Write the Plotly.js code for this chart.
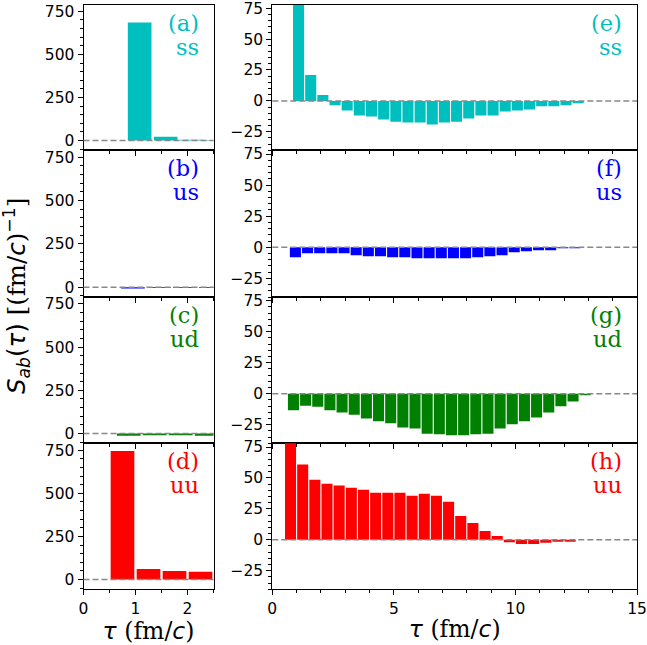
<!DOCTYPE html>
<html>
<head>
<meta charset="utf-8">
<script src="https://cdn.plot.ly/plotly-3.0.1.min.js"></script>
<style>html,body{margin:0;padding:0;background:#fff;}#plot{width:647px;height:645px;}</style>
</head>
<body>
<div id="plot"></div>
<script>
// ---- data ----
const pairs = ["ss", "us", "ud", "uu"];
const leftLetters = ["(a)", "(b)", "(c)", "(d)"];
const rightLetters = ["(e)", "(f)", "(g)", "(h)"];

const tauSS = [1.08, 1.58, 2.08, 2.58, 3.08, 3.58, 4.08, 4.58, 5.08, 5.58, 6.08, 6.58, 7.08, 7.58, 8.08, 8.58, 9.08, 9.58, 10.08, 10.58, 11.08, 11.58, 12.08, 12.58];
const valSS = [685, 21, 4.7, -3.6, -7.7, -11.8, -12.6, -15.1, -16.8, -17.6, -17.6, -19.2, -17.6, -16.8, -14.3, -11.8, -11.8, -8.5, -7.7, -6.9, -4.4, -4.4, -3.6, -1.9];

const tauUS = [0.95, 1.45, 1.95, 2.45, 2.95, 3.45, 3.95, 4.45, 4.95, 5.45, 5.95, 6.45, 6.95, 7.45, 7.95, 8.45, 8.95, 9.45, 9.95, 10.45, 10.95, 11.45, 11.95, 12.45];
const valUS = [-8.1, -4.8, -4.8, -4.8, -4.8, -6.5, -7.3, -7.3, -8.1, -8.1, -8.9, -8.9, -8.9, -8.9, -8.9, -8.1, -7.3, -6.5, -4.0, -3.2, -2.4, -2.4, -0.8, -0.8];

const tauUD = [0.87, 1.37, 1.87, 2.37, 2.87, 3.37, 3.87, 4.37, 4.87, 5.37, 5.87, 6.37, 6.87, 7.37, 7.87, 8.37, 8.87, 9.37, 9.87, 10.37, 10.87, 11.37, 11.87, 12.37, 12.87];
const valUD = [-13.4, -9.7, -10.5, -13.4, -15.1, -16.9, -19.9, -22.3, -23.9, -27.2, -28.0, -32.3, -32.8, -33.6, -33.6, -32.8, -32.3, -28.0, -24.7, -22.3, -19.1, -15.1, -10.2, -6.2, -1.3];

const tauUU = [0.75, 1.25, 1.75, 2.25, 2.75, 3.25, 3.75, 4.25, 4.75, 5.25, 5.75, 6.25, 6.75, 7.25, 7.75, 8.25, 8.75, 9.25, 9.75, 10.25, 10.75, 11.25, 11.75, 12.25];
const valUU = [746, 60.9, 48.6, 45.4, 43.8, 42.1, 40.5, 38.0, 38.0, 38.0, 35.6, 37.2, 35.6, 30.7, 19.3, 13.6, 7.1, 3.0, -1.9, -3.3, -3.3, -2.4, -1.6, -1.6];

const leftXTicks = [0, 1, 2];
const rightXTicks = [0, 5, 10, 15];
const leftYTicks = [0, 250, 500, 750];
const rightYTicks = [-25, 0, 25, 50, 75];

// ---- styling ----
const colors = ["#00BFBF", "#0000FF", "#008000", "#FF0000"];
const taus = [tauSS, tauUS, tauUD, tauUU];
const vals = [valSS, valUS, valUD, valUU];

const W = 647, H = 645;
const leftDom = [83.5 / W, 213.5 / W];
const rightDom = [272.3 / W, 637 / W];
const rowEdges = [4.5, 150.3, 297, 443.3, 589.3];
const rowDom = i => [1 - rowEdges[i + 1] / H, 1 - rowEdges[i] / H];

const tickFont = {family: "DejaVu Sans", size: 15.5, color: "#000"};
const serif = "font-family:'DejaVu Serif'";
const xTitle = "<i>τ</i> <span style=\"" + serif + "\">(fm/</span><i>c</i><span style=\"" + serif + "\">)</span>";
const yTitle = "<i>S</i><sub><i>ab</i></sub>(<i>τ</i>) <span style=\"" + serif + "\">[(fm/</span><i>c</i><span style=\"" + serif + "\">)</span><sup>−1</sup><span style=\"" + serif + "\">]</span>";

const traces = [];
const layout = {
  width: W, height: H,
  margin: {l: 0, r: 0, t: 0, b: 0},
  paper_bgcolor: "#fff", plot_bgcolor: "#fff",
  showlegend: false,
  font: {family: "DejaVu Sans", color: "#000"},
  shapes: [], annotations: []
};

function axisCommon() {
  return {
    showline: true, mirror: true, linecolor: "#000", linewidth: 1,
    ticks: "outside", ticklen: 5, tickwidth: 1, tickcolor: "#000",
    showgrid: false, zeroline: false, tickfont: tickFont, fixedrange: true,
    ticklabeloverflow: "allow"
  };
}

for (let col = 0; col < 2; col++) {
  for (let row = 0; row < 4; row++) {
    const n = col * 4 + row + 1;
    const xa = "x" + (n === 1 ? "" : n);
    const ya = "y" + (n === 1 ? "" : n);
    traces.push({
      type: "bar", x: taus[row], y: vals[row], width: 0.455,
      marker: {color: colors[row], line: {width: 0}},
      xaxis: xa, yaxis: ya, hoverinfo: "x+y"
    });
    const xax = Object.assign(axisCommon(), {
      domain: col === 0 ? leftDom : rightDom,
      range: col === 0 ? [0, 2.5] : [0, 15],
      tickvals: col === 0 ? leftXTicks : rightXTicks,
      ticktext: (col === 0 ? leftXTicks : rightXTicks).map(String),
      showticklabels: row === 3,
      minor: {ticks: "outside", ticklen: 3, dtick: col === 0 ? 0.5 : 1, tickcolor: "#000", tick0: 0},
      anchor: ya
    });
    if (row === 3) {
      xax.title = {text: xTitle, font: {family: "DejaVu Sans", size: 23.5, color: "#000"}, standoff: 3};
    }
    const yax = Object.assign(axisCommon(), {
      domain: rowDom(row),
      range: col === 0 ? [-57, 790] : [-40, 78],
      tickvals: col === 0 ? leftYTicks : rightYTicks,
      ticktext: (col === 0 ? leftYTicks : rightYTicks).map(v => v < 0 ? "−" + Math.abs(v) : String(v)),
      minor: {ticks: "outside", ticklen: 3, dtick: col === 0 ? 50 : 5, tickcolor: "#000", tick0: 0},
      anchor: xa
    });
    layout["xaxis" + (n === 1 ? "" : n)] = xax;
    layout["yaxis" + (n === 1 ? "" : n)] = yax;

    layout.shapes.push({
      type: "line", xref: xa + " domain", yref: ya,
      x0: 0, x1: 1, y0: 0, y1: 0,
      line: {color: "#888888", width: 1.5, dash: "6px,3px"}, layer: "above"
    });
    // panel letter
    layout.annotations.push({
      xref: xa + " domain", yref: ya + " domain", x: 1, y: 1,
      xanchor: "right", yanchor: "middle", xshift: -13, yshift: -18,
      showarrow: false,
      text: col === 0 ? leftLetters[row] : rightLetters[row],
      font: {family: "DejaVu Serif", size: 22.5, color: colors[row]}
    });
    // pair name
    layout.annotations.push({
      xref: xa + " domain", yref: ya + " domain", x: 1, y: 1,
      xanchor: "right", yanchor: "middle", xshift: -13, yshift: -42,
      showarrow: false,
      text: pairs[row],
      font: {family: "DejaVu Serif", size: 22.5, color: colors[row]}
    });
  }
}

layout.annotations.push({
  xref: "paper", yref: "paper", x: 16 / W, y: 1 - 296 / H,
  xanchor: "center", yanchor: "middle", textangle: -90, showarrow: false,
  text: yTitle, font: {family: "DejaVu Sans", size: 24.5, color: "#000"}
});

Plotly.newPlot("plot", traces, layout, {staticPlot: true, displayModeBar: false});
</script>
</body>
</html>
